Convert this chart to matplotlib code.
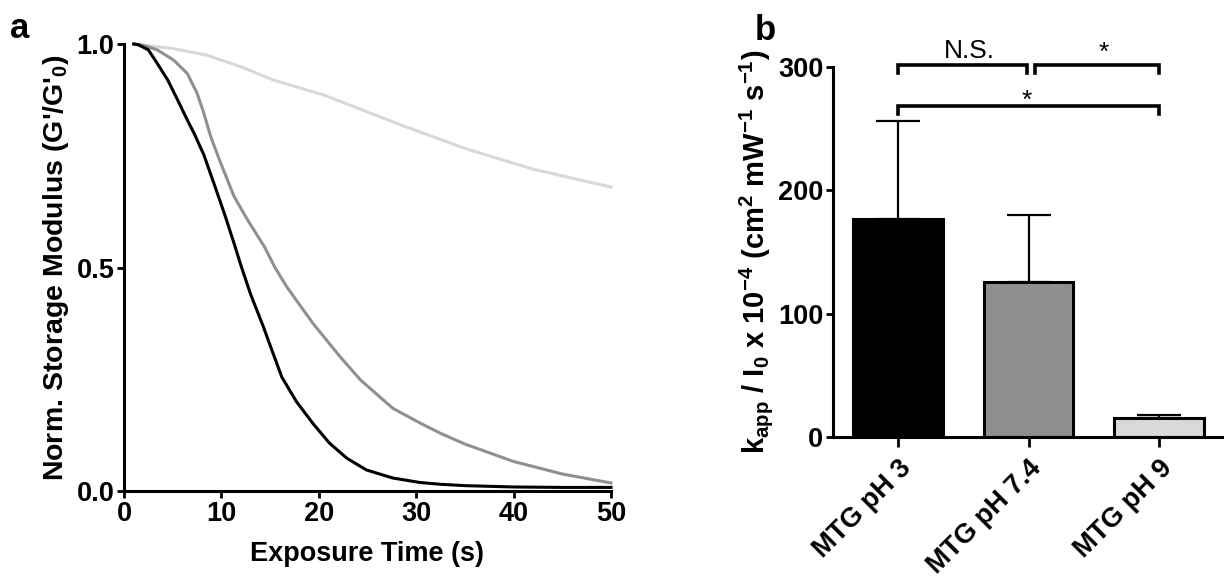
import numpy as np
import matplotlib
matplotlib.use("Agg")
import matplotlib.pyplot as plt

plt.rcParams['font.family'] = ['Liberation Sans', 'DejaVu Sans']
plt.rcParams['font.weight'] = 'bold'
plt.rcParams['mathtext.fontset'] = 'custom'
plt.rcParams['mathtext.rm'] = 'Liberation Sans:bold'
plt.rcParams['mathtext.it'] = 'Liberation Sans:bold'
plt.rcParams['mathtext.bf'] = 'Liberation Sans:bold'
plt.rcParams['mathtext.default'] = 'rm'

# panel a: storage modulus decay
t_black = [1, 1.5, 2.5, 3.4, 4.5, 5.5, 6.5, 7.2, 8.2, 9.2, 10.3, 11.3, 12, 13, 14.3,
           15, 16.2, 17.7, 19.4, 21.1, 22.9, 24.9, 27.6, 30.4, 32.5, 35, 40, 45, 50]
g_black = [1.0, 0.998, 0.987, 0.957, 0.919, 0.875, 0.83, 0.80, 0.752, 0.69, 0.621,
           0.554, 0.505, 0.44, 0.368, 0.326, 0.255, 0.2, 0.151, 0.107, 0.073, 0.047,
           0.029, 0.019, 0.015, 0.012, 0.009, 0.008, 0.008]

t_gray = [1, 2, 3.4, 5.1, 6.5, 7.5, 8.2, 8.9, 9.9, 11.3, 12.7, 14.4, 15.5, 16.7, 19.4,
          22.2, 24.3, 27.6, 30.4, 32.5, 35, 40, 45, 50]
g_gray = [1.0, 0.997, 0.987, 0.964, 0.934, 0.89, 0.845, 0.793, 0.735, 0.659, 0.606,
          0.547, 0.5, 0.457, 0.375, 0.3, 0.248, 0.185, 0.152, 0.129, 0.105, 0.066,
          0.038, 0.018]

t_light = [1, 5, 8.5, 12, 15.4, 20.5, 28.3, 35.2, 42, 50]
g_light = [1.0, 0.99, 0.975, 0.949, 0.919, 0.886, 0.82, 0.765, 0.72, 0.68]

# panel b: bars
groups = ['MTG pH 3', 'MTG pH 7.4', 'MTG pH 9']
k_mean = [177, 126, 15.5]
k_err = [79, 54, 2]
bar_colors = ['black', '#8f8f8f', '#d9d9d9']

fig = plt.figure(figsize=(12.24, 5.78), dpi=100)

# ---- panel a
ax = fig.add_axes([124/1224, 1-491/578, 487/1224, 447/578])
ax.plot(t_light, g_light, color='#d8d8d8', lw=2.2, clip_on=False)
ax.plot(t_gray, g_gray, color='#909090', lw=2.2, clip_on=False)
ax.plot(t_black, g_black, color='black', lw=2.2, clip_on=False)
ax.set_xlim(0, 50)
ax.set_ylim(0, 1.0)
ax.set_xticks([0, 10, 20, 30, 40, 50])
ax.set_yticks([0.0, 0.5, 1.0])
ax.set_yticklabels(['0.0', '0.5', '1.0'])
for s in ['top', 'right']:
    ax.spines[s].set_visible(False)
for s in ['left', 'bottom']:
    ax.spines[s].set_linewidth(2.2)
ax.tick_params(width=2, length=5, labelsize=19.5, pad=2)
ax.set_xlabel('Exposure Time (s)', fontsize=19.5, fontweight='bold', labelpad=10)
ax.set_ylabel("Norm. Storage Modulus (G'/G'$_0$)", fontsize=20.5, fontweight='bold', labelpad=4)

# ---- panel b
bx = fig.add_axes([833/1224, 1-437/578, 391/1224, 370/578])
x = np.arange(len(groups))
bx.bar(x, k_mean, width=0.69, color=bar_colors, edgecolor='black', linewidth=2.2, zorder=2)
bx.errorbar(x, k_mean, yerr=[np.zeros(3), k_err], fmt='none', ecolor='black',
            elinewidth=1.6, capsize=16, capthick=1.6, zorder=1)
bx.set_xlim(-0.5, 2.5)
bx.set_ylim(0, 300)
bx.set_yticks([0, 100, 200, 300])
bx.set_xticks(x)
bx.set_xticklabels(groups, rotation=45, ha='right', rotation_mode='anchor')
for s in ['top', 'right']:
    bx.spines[s].set_visible(False)
for s in ['left', 'bottom']:
    bx.spines[s].set_linewidth(2.2)
bx.tick_params(width=2, length=5, labelsize=19.5, pad=2)
bx.tick_params(axis='x', length=7, pad=6)
bx.set_ylabel('k$_{app}$ / I$_0$ x 10$^{-4}$ (cm$^2$ mW$^{-1}$ s$^{-1}$)',
              fontsize=21, fontweight='bold', labelpad=2)

def bracket(x0, x1, y, label, lx, ly, h=6.5):
    bx.plot([x0, x0, x1, x1], [y - h, y, y, y - h], color='black', lw=2.6,
            clip_on=False, solid_joinstyle='miter')
    bx.text(lx, ly, label, ha='center', va='baseline', fontsize=19,
            fontweight='normal', clip_on=False)

bracket(0, 0.99, 301.7, 'N.S.', 0.55, 307)
bracket(1.05, 2.0, 301.7, '*', 1.58, 306)
bracket(0, 2.0, 268, '*', 0.99, 267)

fig.text(20/1224, 1-28/578, 'a', fontsize=25, fontweight='bold', ha='center', va='center')
fig.text(765/1224, 1-30/578, 'b', fontsize=25, fontweight='bold', ha='center', va='center')

fig.savefig('out.png', dpi=100)
